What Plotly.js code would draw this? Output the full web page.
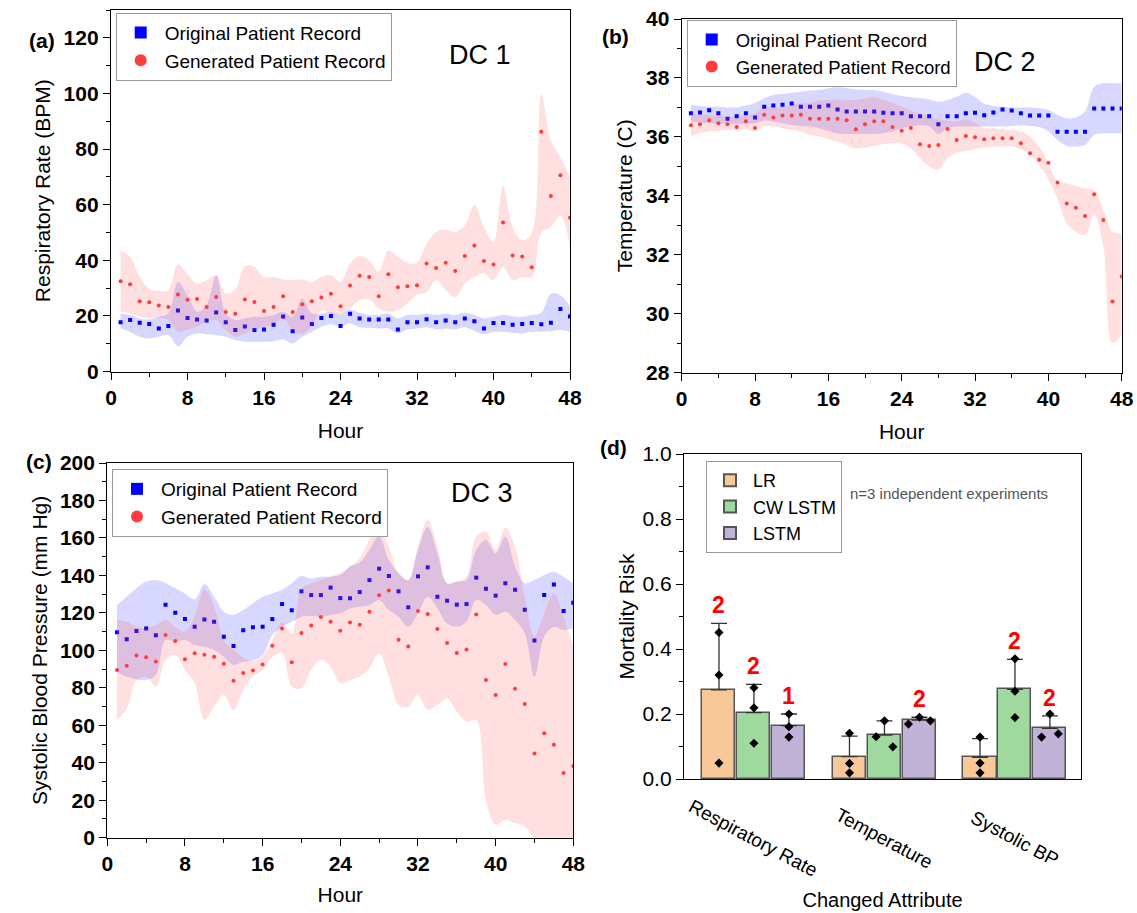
<!DOCTYPE html>
<html><head><meta charset="utf-8">
<script src="https://cdn.plot.ly/plotly-3.0.1.min.js"></script>
<style>html,body{margin:0;padding:0;background:#fff}#chart{width:1137px;height:913px}</style>
</head><body><div id="chart"></div>
<script>
// ---------------- DATA ----------------
const hours = [1,2,3,4,5,6,7,8,9,10,11,12,13,14,15,16,17,18,19,20,21,22,23,24,25,26,27,28,29,30,31,32,33,34,35,36,37,38,39,40,41,42,43,44,45,46,47,48];

// (a) Respiratory rate, DC 1
const rrOrig = [17.7,18.5,17.5,17.1,15.5,16.4,21.9,19.2,18.7,18.3,21.2,17.7,14.9,16.2,14.9,15.1,16.8,19.8,14.5,19.4,17.1,19.2,20.0,16.4,20.8,19.1,18.7,18.7,18.7,15.1,17.7,17.7,18.8,17.7,18.3,17.7,19.1,18.1,15.5,17.4,17.4,16.8,17.1,17.4,17.0,17.5,22.5,19.8];
const rrOrigUpper = [20.9,20.3,19.1,18.7,19.7,20.9,32.2,27.4,21.5,23.9,34.6,20.9,18.5,19.1,19.7,19.7,20.3,21.5,19.7,26.2,20.9,20.9,21.5,20.3,22.3,21.1,20.3,20.3,20.9,19.1,20.3,20.3,20.9,20.3,20.9,20.3,21.1,20.3,19.1,19.7,20.3,19.9,19.7,20.3,21.1,28.0,27.4,23.3];
const rrOrigLower = [15.5,14.3,12.5,11.9,12.5,13.1,9.1,12.5,13.7,13.4,13.1,12.5,11.3,10.7,10.7,10.7,10.9,11.5,10.1,12.5,14.3,16.1,17.0,16.1,17.3,15.9,15.7,15.5,15.5,13.7,15.1,15.5,15.9,15.1,15.5,15.1,15.9,14.6,13.4,14.3,14.3,13.9,13.7,14.3,14.3,14.6,14.9,14.3];
const rrGen = [32.5,31.4,25.3,24.9,23.7,23.2,27.7,25.8,26.1,23.2,26.8,21.4,20.8,25.9,25.0,21.8,23.2,27.1,21.4,24.2,25.3,26.6,28.0,23.5,30.9,34.4,34.0,27.1,35.0,30.3,30.7,31.0,38.8,37.2,39.1,36.1,41.5,45.3,39.7,38.5,53.6,41.7,41.4,37.5,86.2,63.1,70.6,55.3];
const rrGenUpper = [43.3,41.2,34.0,29.8,29.0,29.2,38.6,35.0,31.6,32.8,34.6,28.0,29.5,37.9,37.6,34.0,34.0,33.1,32.8,33.2,32.2,34.0,34.6,32.2,38.8,41.5,40.0,35.8,43.4,41.2,39.1,39.1,46.0,50.2,51.1,50.2,52.6,59.8,52.0,46.6,66.7,52.0,47.2,49.6,99.7,83.0,77.0,70.0];
const rrGenLower = [21.5,20.9,19.7,19.1,19.4,18.5,14.3,15.1,16.1,17.9,18.5,14.9,12.5,13.7,14.9,16.1,17.0,19.1,14.9,13.5,16.5,22.0,21.0,20.3,22.7,25.7,26.0,22.7,21.5,22.0,24.5,27.5,28.6,32.8,29.3,26.8,31.6,34.0,35.2,32.8,37.6,32.8,34.0,34.0,50.0,52.0,56.0,45.0];

// (b) Temperature, DC 2
const tempOrig = [36.80,36.83,36.90,36.80,36.61,36.70,36.80,36.66,37.02,37.06,37.09,37.13,37.02,37.02,37.02,37.06,36.93,36.86,36.86,36.86,36.86,36.82,36.80,36.80,36.70,36.70,36.70,36.43,36.70,36.70,36.80,36.82,36.73,36.83,36.93,36.89,36.80,36.72,36.72,36.72,36.17,36.17,36.17,36.17,36.96,36.96,36.96,36.96];
const tempOrigUpper = [37.08,37.05,37.02,37.02,37.00,37.00,37.06,37.14,37.31,37.42,37.45,37.50,37.53,37.57,37.59,37.65,37.68,37.65,37.61,37.59,37.59,37.53,37.45,37.39,37.34,37.31,37.27,37.19,37.25,37.36,37.50,37.36,37.12,37.05,37.02,37.00,37.00,37.00,36.97,36.91,36.74,36.63,36.66,36.86,37.70,37.82,37.82,37.82];
const tempOrigLower = [36.52,36.48,36.46,36.44,36.44,36.43,36.44,36.46,36.55,36.52,36.46,36.40,36.37,36.35,36.29,36.21,36.12,36.10,36.10,36.10,36.10,36.12,36.18,36.29,36.35,36.39,36.35,36.10,36.29,36.35,36.35,36.35,36.35,36.35,36.35,36.37,36.39,36.37,36.33,36.18,35.89,35.69,35.67,35.72,36.06,36.12,36.12,36.12];
const tempGen = [36.39,36.43,36.56,36.46,36.43,36.33,36.53,36.30,36.75,36.66,36.72,36.72,36.75,36.61,36.61,36.61,36.61,36.56,36.26,36.43,36.53,36.53,36.33,36.21,36.30,35.75,35.69,35.72,36.27,35.89,36.03,35.99,35.92,35.95,35.95,35.95,35.78,35.44,35.22,35.12,34.45,33.74,33.59,33.31,34.05,33.18,30.41,31.26];
const tempGenUpper = [36.78,36.77,36.74,36.71,36.69,36.66,36.71,36.80,36.97,37.00,37.02,37.08,37.14,37.16,37.23,37.25,37.27,37.25,37.25,37.30,37.34,37.25,37.16,37.02,36.89,36.78,36.69,36.60,36.55,36.52,36.60,36.48,36.29,36.29,36.26,36.23,36.18,36.01,35.67,35.10,34.48,34.42,34.33,34.25,34.20,33.50,32.78,32.73];
const tempGenLower = [36.01,36.12,36.18,36.21,36.23,36.23,36.26,36.20,36.37,36.35,36.29,36.23,36.18,36.06,36.01,35.92,35.84,35.72,35.61,35.64,35.69,35.76,35.78,35.76,35.61,35.27,34.99,34.88,35.27,35.46,35.53,35.58,35.64,35.67,35.67,35.67,35.58,35.38,35.05,34.54,33.90,33.07,32.78,32.67,33.35,32.27,29.00,29.30];

// (c) Systolic blood pressure, DC 3
const sbpOrig = [109.6,105.9,110.3,111.7,108.0,124.4,120.1,116.7,112.6,116.4,115.3,107.3,102.3,110.7,112.3,112.6,116.7,124.7,121.4,131.5,129.5,129.5,133.5,127.9,127.8,131.1,137.5,143.6,139.7,131.5,123.0,139.5,144.3,128.6,126.5,124.4,124.7,138.8,132.9,129.2,135.8,132.4,121.7,105.3,129.5,135.1,121.0,125.4];
const sbpOrigUpper = [124.2,128.6,133.1,136.7,137.5,135.8,133.1,130.4,127.2,135.4,128.6,120.6,118.9,121.5,125.1,128.6,130.4,132.2,135.8,139.7,138.4,139.3,139.3,140.2,144.7,146.8,153.6,160.7,148.2,141.1,137.5,153.6,165.7,151.8,135.8,136.7,137.5,153.6,158.9,151.8,160.7,144.7,135.8,137.5,140.2,142.0,139.3,135.8];
const sbpOrigLower = [88.6,85.9,84.5,84.2,86.8,105.5,104.6,105.5,102.8,101.9,100.2,96.6,92.2,94.0,94.5,97.5,108.2,112.6,115.3,118.0,118.3,118.0,118.9,119.8,122.4,123.3,124.2,126.9,121.5,118.0,112.6,119.8,128.6,122.4,114.4,112.6,115.3,126.9,124.2,118.9,120.6,116.2,109.1,85.9,107.3,112.6,110.9,111.7];
const sbpGen = [89.5,91.8,97.3,96.3,94.1,108.2,105.0,95.2,98.4,97.7,96.6,92.9,83.8,87.9,89.3,92.5,102.5,111.7,93.6,109.3,113.2,117.8,115.3,110.5,114.9,113.7,120.6,129.4,132.0,105.7,102.1,121.0,119.4,111.4,103.9,98.6,100.5,119.2,84.2,76.2,92.7,79.5,71.4,45.0,55.7,49.6,34.5,38.3];
const sbpGenUpper = [116.2,115.3,112.6,111.7,113.5,116.2,112.6,110.0,118.0,132.6,123.3,105.5,100.0,96.0,94.0,97.0,105.5,115.0,109.1,133.1,135.8,137.5,139.3,141.1,144.7,149.1,158.9,164.6,155.3,141.1,137.5,155.3,169.6,155.3,135.8,136.7,139.3,160.7,163.3,153.6,165.7,155.3,128.6,107.3,119.8,130.4,118.0,102.0];
const sbpGenLower = [62.8,69.0,84.2,86.0,80.6,94.8,97.5,89.5,82.4,62.8,69.9,76.2,68.1,78.8,86.0,89.5,96.6,98.4,80.6,79.7,89.5,94.8,91.3,82.4,84.2,86.0,90.4,98.4,86.0,70.8,69.9,76.2,68.1,70.8,74.4,67.3,61.9,62.8,20.1,6.8,9.4,7.7,5.9,0,-5,-5,-5,-5];

// (d) Mortality risk
const attributes = ['Respiratory Rate','Temperature','Systolic BP'];
const models = ['LR','CW LSTM','LSTM'];
const lrMean = [0.274,0.069,0.067];
const lrErr = [0.205,0.063,0.057];
const cwMean = [0.204,0.135,0.276];
const cwErr = [0.087,0.044,0.092];
const lstmMean = [0.164,0.181,0.156];
const lstmErr = [0.036,0.009,0.038];
const lrPts = [[0.451,0.320,0.049],[0.141,0.048,0.019],[0.129,0.049,0.019]];
const cwPts = [[0.281,0.219,0.110],[0.179,0.130,0.099],[0.370,0.270,0.189]];
const lstmPts = [[0.200,0.161,0.129],[0.190,0.169,0.179],[0.200,0.129,0.139]];
const sigText = ['2','2','1','2','2','2'];
const sigModel = [0,1,2,2,1,2];
const sigAttr = [0,0,0,1,2,2];

// ---------------- STYLE ----------------
const W = 1137, H = 913;
const FONT = 'Arial, "Liberation Sans", sans-serif';
const px = v => v / W, py = v => 1 - v / H;
const BLUE = '#0000ff', RED = '#ff3b3b';
const BLUE_BAND = 'rgba(95,95,255,0.25)', RED_BAND = 'rgba(255,95,95,0.2)';
const BAR_COLORS = ['#f9c898','#a0d99e','#c1b2d7'];
const BAR_OFFSET = [-0.268, 0, 0.268];
const BAR_WIDTH = 0.253;
const JITTER = [
  [[0,0,0],[0,0,0],[0,0,0]],
  [[0,0,0],[0,-0.064,0.064],[0,0,0]],
  [[0,0,0],[0,-0.084,0.084],[0,-0.064,0.064]]
];

const traces = [];
function addPanel(s, leg, orig, oLo, oHi, gen, gLo, gHi) {
  const xa = 'x' + s, ya = 'y' + s;
  const band = (y, fill, color) => ({x: hours, y: y, xaxis: xa, yaxis: ya, mode: 'lines',
    line: {width: 0, shape: 'spline', smoothing: 1}, fill: fill, fillcolor: color,
    hoverinfo: 'skip', showlegend: false});
  traces.push(band(oLo, 'none'));
  traces.push(band(oHi, 'tonexty', BLUE_BAND));
  traces.push({x: hours, y: orig, xaxis: xa, yaxis: ya, mode: 'markers', name: 'Original Patient Record',
    marker: {symbol: 'square', size: 4, color: BLUE}, legend: leg, legendrank: 1});
  traces.push(band(gLo, 'none'));
  traces.push(band(gHi, 'tonexty', RED_BAND));
  traces.push({x: hours, y: gen, xaxis: xa, yaxis: ya, mode: 'markers', name: 'Generated Patient Record',
    marker: {symbol: 'circle', size: 4, color: RED}, legend: leg, legendrank: 2});
}
addPanel('', 'legend', rrOrig, rrOrigLower, rrOrigUpper, rrGen, rrGenLower, rrGenUpper);
addPanel('2', 'legend2', tempOrig, tempOrigLower, tempOrigUpper, tempGen, tempGenLower, tempGenUpper);
addPanel('3', 'legend3', sbpOrig, sbpOrigLower, sbpOrigUpper, sbpGen, sbpGenLower, sbpGenUpper);

// bars
const means = [lrMean, cwMean, lstmMean], errs = [lrErr, cwErr, lstmErr], pts = [lrPts, cwPts, lstmPts];
models.forEach((m, k) => {
  traces.push({type: 'bar', name: m, xaxis: 'x4', yaxis: 'y4', legend: 'legend4', legendrank: k + 1,
    x: attributes.map((a, i) => i + BAR_OFFSET[k]), y: means[k], width: BAR_WIDTH,
    marker: {color: BAR_COLORS[k], line: {color: '#555', width: 1.5}},
    error_y: {type: 'data', symmetric: false, array: errs[k], arrayminus: errs[k].map(() => 0),
      color: '#333', thickness: 1.3, width: 8},
    hoverinfo: 'y'});
});
const dx = [], dy = [];
models.forEach((m, k) => attributes.forEach((a, i) => pts[k][i].forEach((v, j) => {
  dx.push(i + BAR_OFFSET[k] + JITTER[k][i][j]); dy.push(v);
})));
traces.push({x: dx, y: dy, xaxis: 'x4', yaxis: 'y4', mode: 'markers', showlegend: false,
  marker: {symbol: 'diamond', size: 7, color: '#000'}, hoverinfo: 'y'});

// ---------------- LAYOUT ----------------
const lineCommon = {showline: true, linecolor: '#000', linewidth: 1.3, mirror: true, showgrid: false, zeroline: false, fixedrange: true};
function hourAxis(dom, anchor, standoff) {
  return Object.assign({}, lineCommon, {domain: dom, anchor: anchor, range: [0, 48], tickmode: 'linear', tick0: 0, dtick: 8,
    ticks: 'outside', ticklen: 7, tickwidth: 1.3, tickcolor: '#000',
    minor: {dtick: 4, ticks: 'outside', ticklen: 4, tickwidth: 1.3, tickcolor: '#000'},
    tickfont: {size: 21, weight: 'bold', color: '#000'},
    title: {text: 'Hour', font: {size: 21, color: '#000'}, standoff: standoff}});
}
function valAxis(dom, anchor, range, dtick, title, standoff) {
  return Object.assign({}, lineCommon, {domain: dom, anchor: anchor, range: range, tickmode: 'linear', tick0: range[0], dtick: dtick,
    ticks: 'outside', ticklen: 7, tickwidth: 1.3, tickcolor: '#000',
    minor: {dtick: dtick / 2, ticks: 'outside', ticklen: 4, tickwidth: 1.3, tickcolor: '#000'},
    tickfont: {size: 21, weight: 'bold', color: '#000'},
    title: {text: title, font: {size: 21, color: '#000'}, standoff: standoff}});
}
function topAxis(over, anchor) {
  return {overlaying: over, anchor: anchor, side: 'top', range: [0, 1], tickmode: 'linear', tick0: 0, dtick: 0.1,
    ticks: 'inside', ticklen: 5, tickwidth: 1.3, tickcolor: '#000', showticklabels: false, showline: false,
    showgrid: false, zeroline: false, fixedrange: true};
}
function rightAxis(over, anchor) {
  return Object.assign(topAxis(over, anchor), {side: 'right'});
}
function legendAt(x, y, size, iw) {
  return {x: px(x), y: py(y), xanchor: 'left', yanchor: 'top', bgcolor: '#fff', bordercolor: '#999', borderwidth: 1,
    font: {size: size, color: '#000'}, itemsizing: 'constant', itemwidth: iw, tracegroupgap: 0, traceorder: 'normal'};
}

const annotations = [
  {text: '<b>(a)</b>', x: px(27), y: py(27)},
  {text: '<b>(b)</b>', x: px(615), y: py(23)},
  {text: '<b>(c)</b>', x: px(24), y: py(462)},
  {text: '<b>(d)</b>', x: px(613), y: py(447)},
].map(a => Object.assign(a, {xref: 'paper', yref: 'paper', showarrow: false, font: {size: 21, color: '#000'}}));
[['DC 1', 480, 38], ['DC 2', 1038, 45], ['DC 3', 482, 493]].forEach(d => annotations.push({
  text: d[0], x: px(d[1]), y: py(d[2]), xref: 'paper', yref: 'paper', showarrow: false, font: {size: 27, color: '#000'}}));
annotations.push({text: 'n=3 independent experiments', x: px(848), y: py(493), xref: 'paper', yref: 'paper',
  xanchor: 'left', showarrow: false, font: {size: 15, color: '#555'}});
attributes.forEach((a, i) => annotations.push({text: a, x: i, xref: 'x4', y: py(838), yref: 'paper',
  xanchor: 'center', yanchor: 'middle', textangle: 28, showarrow: false, font: {size: 19, color: '#000'}}));
sigText.forEach((t, n) => {
  const k = sigModel[n], i = sigAttr[n];
  annotations.push({text: '<b>' + t + '</b>', x: i + BAR_OFFSET[k], y: means[k][i] + errs[k][i], xref: 'x4', yref: 'y4',
    yanchor: 'bottom', yshift: 3, showarrow: false, font: {size: 23, color: '#ff0000'}});
});

const layout = {
  width: W, height: H, margin: {l: 0, r: 0, t: 0, b: 0}, paper_bgcolor: '#fff', plot_bgcolor: 'rgba(0,0,0,0)',
  font: {family: FONT, color: '#000'}, hovermode: 'closest', bargap: 0,
  xaxis: hourAxis([px(111), px(570)], 'y', 15),
  yaxis: valAxis([py(371.5), py(10)], 'x', [0, 130], 20, 'Respiratory Rate (BPM)', 7),
  xaxis2: hourAxis([px(681.7), px(1121.7)], 'y2', 15),
  yaxis2: valAxis([py(372.5), py(19)], 'x2', [28, 40], 2, 'Temperature (C)', 7),
  xaxis3: hourAxis([px(107.3), px(573.3)], 'y3', 13),
  yaxis3: valAxis([py(837.7), py(463)], 'x3', [0, 200], 20, 'Systolic Blood Pressure (mm Hg)', 6),
  xaxis4: Object.assign({}, lineCommon, {domain: [px(684), px(1081)], anchor: 'y4', range: [-0.536, 2.506],
    showticklabels: false, ticks: '', title: {text: 'Changed Attribute', font: {size: 20, color: '#000'}, standoff: 113}}),
  yaxis4: Object.assign({}, lineCommon, {domain: [py(779), py(454)], anchor: 'x4', range: [0, 1], tickmode: 'linear', tick0: 0, dtick: 0.2,
    tickformat: '.1f', ticks: 'outside', ticklen: 7, tickwidth: 1.3, tickcolor: '#000',
    minor: {dtick: 0.1, ticks: 'outside', ticklen: 4, tickwidth: 1.3, tickcolor: '#000'},
    tickfont: {size: 21, color: '#000'}, title: {text: 'Mortality Risk', font: {size: 21, color: '#000'}, standoff: 2}}),
  xaxis5: topAxis('x', 'y'), yaxis5: rightAxis('y', 'x'),
  xaxis6: topAxis('x2', 'y2'), yaxis6: rightAxis('y2', 'x2'),
  xaxis7: topAxis('x3', 'y3'), yaxis7: rightAxis('y3', 'x3'),
  legend: legendAt(115.7, 12.7, 19, 38),
  legend2: legendAt(686.7, 20, 18.5, 38),
  legend3: legendAt(112, 469, 19, 38),
  legend4: legendAt(706, 461, 18, 36),
  annotations: annotations,
  showlegend: true
};

Plotly.newPlot('chart', traces, layout, {displayModeBar: false, staticPlot: false});
</script>
</body></html>
